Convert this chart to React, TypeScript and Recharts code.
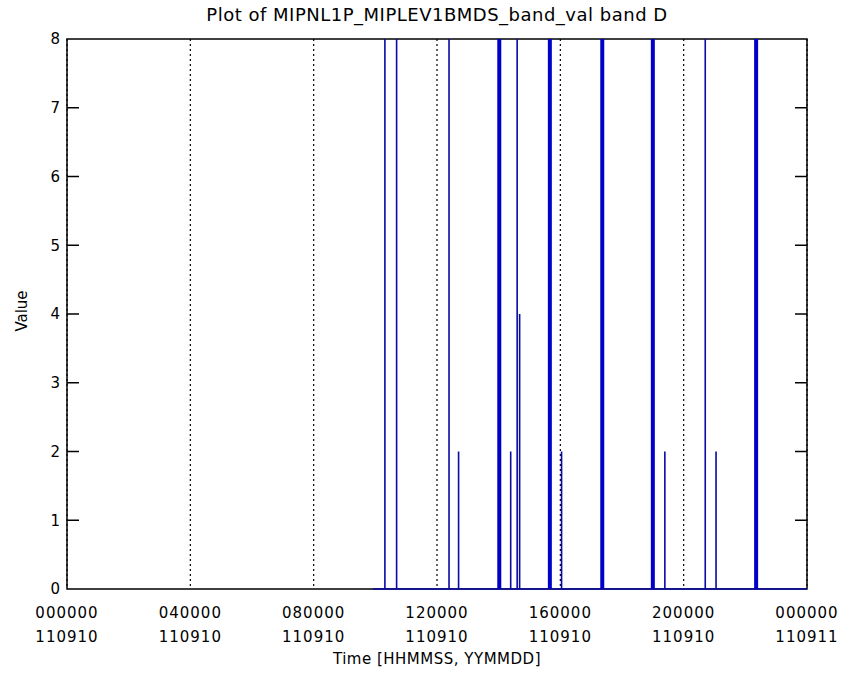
import React from 'react';
import { LineChart, Line, XAxis, YAxis, CartesianGrid, ReferenceArea } from 'recharts';

// time axis, hours since 000000 110910
const xTickHours = [0, 4, 8, 12, 16, 20, 24];
const xTickTimes = ['000000', '040000', '080000', '120000', '160000', '200000', '000000'];
const xTickDates = ['110910', '110910', '110910', '110910', '110910', '110910', '110911'];
const yTicks = [0, 1, 2, 3, 4, 5, 6, 7, 8];

// span of the band_val record (value 0 between spikes)
const recordStart = 9.92;
const recordEnd = 24;

// single samples
const thinHours = [10.31, 10.69, 12.39, 12.7, 14.39, 14.6, 14.68, 16.04, 19.39, 20.7, 21.05];
const thinValues = [8, 8, 8, 2, 2, 8, 4, 2, 2, 8, 2];

// clustered samples (drawn heavy)
const thickHours = [14.02, 15.66, 17.36, 19.0, 22.35];
const thickValues = [8, 8, 8, 8, 8];

type Pt = { t: number; v: number | null };

const thinData: Pt[] = [
  { t: recordStart, v: 0 },
  ...thinHours.flatMap((h, i) => [
    { t: h, v: 0 },
    { t: h, v: thinValues[i] },
    { t: h, v: 0 },
  ]),
  { t: recordEnd, v: 0 },
];

const thickData: Pt[] = thickHours.flatMap((h, i) => [
  { t: h, v: 0 },
  { t: h, v: thickValues[i] },
  { t: h, v: null },
]);

const FONT = '"DejaVu Sans", sans-serif';
const W = 857;
const H = 675;
const MARGIN = { top: 39, right: 50, left: 0, bottom: 0 };
const Y_AXIS_W = 67;
const Y_TICK_GAP = 7;
const PLOT_W = W - MARGIN.left - MARGIN.right - Y_AXIS_W;
const TICK_LEN = 12;

const XTick = ({ x, y, payload }: any) => {
  const idx = xTickHours.indexOf(payload.value);
  return (
    <text x={x} y={y} textAnchor="middle" fill="#000" fontFamily={FONT} fontSize={15} letterSpacing={1}>
      <tspan x={x} dy={29}>{xTickTimes[idx]}</tspan>
      <tspan x={x} dy={24}>{xTickDates[idx]}</tspan>
    </text>
  );
};

// label plus inward tick marks on both sides of the frame (IDL style)
const YTick = ({ x, y, payload }: any) => {
  const left = x + Y_TICK_GAP;
  const right = left + PLOT_W;
  const edge = payload.value === yTicks[0] || payload.value === yTicks[yTicks.length - 1];
  return (
    <g>
      <text x={x} y={y} dy="0.36em" textAnchor="end" fill="#000" fontFamily={FONT} fontSize={15}>
        {payload.value}
      </text>
      {!edge && (
        <>
          <line x1={left} x2={left + TICK_LEN} y1={y} y2={y} stroke="#000" strokeWidth={1.5} />
          <line x1={right - TICK_LEN} x2={right} y1={y} y2={y} stroke="#000" strokeWidth={1.5} />
        </>
      )}
    </g>
  );
};

const App: React.FC = () => {
  return (
    <div style={{ position: 'absolute', left: 0, top: 0, width: W, height: H, background: '#fff', fontFamily: FONT }}>
      <div style={{
        position: 'absolute', left: 0, width: 874, top: 4, textAlign: 'center',
        fontSize: 18, color: '#000', letterSpacing: 0.5,
      }}>
        Plot of MIPNL1P_MIPLEV1BMDS_band_val band D
      </div>
      <LineChart width={W} height={H} margin={MARGIN}>
        <CartesianGrid horizontal={false} stroke="#000" strokeDasharray="2 3" strokeWidth={1.2} />
        <XAxis
          dataKey="t"
          type="number"
          domain={[0, 24]}
          ticks={xTickHours}
          interval={0}
          height={86}
          axisLine={false}
          tickLine={false}
          tickSize={0}
          tickMargin={0}
          tick={<XTick />}
          allowDataOverflow
        />
        <YAxis
          type="number"
          domain={[0, 8]}
          ticks={yTicks}
          interval={0}
          width={Y_AXIS_W}
          axisLine={false}
          tickLine={false}
          tickSize={0}
          tickMargin={Y_TICK_GAP}
          tick={<YTick />}
        />
        <ReferenceArea x1={0} x2={24} y1={0} y2={8} fill="none" stroke="#000" strokeWidth={1.5} ifOverflow="visible" />
        <Line data={thinData} dataKey="v" type="linear" stroke="#0a0aa6" strokeWidth={1.6}
          dot={false} activeDot={false} isAnimationActive={false} />
        <Line data={thickData} dataKey="v" type="linear" stroke="#0000c8" strokeWidth={4}
          dot={false} activeDot={false} connectNulls={false} isAnimationActive={false} />
      </LineChart>
      <div style={{
        position: 'absolute', left: 287, width: 300, top: 650, textAlign: 'center',
        fontSize: 15, color: '#000', letterSpacing: 0.5,
      }}>
        Time [HHMMSS, YYMMDD]
      </div>
      <div style={{
        position: 'absolute', left: 22, top: 311, width: 80, marginLeft: -40, marginTop: -10,
        textAlign: 'center', fontSize: 15, lineHeight: '20px', color: '#000',
        transform: 'rotate(-90deg)',
      }}>
        Value
      </div>
    </div>
  );
};

export default App;
